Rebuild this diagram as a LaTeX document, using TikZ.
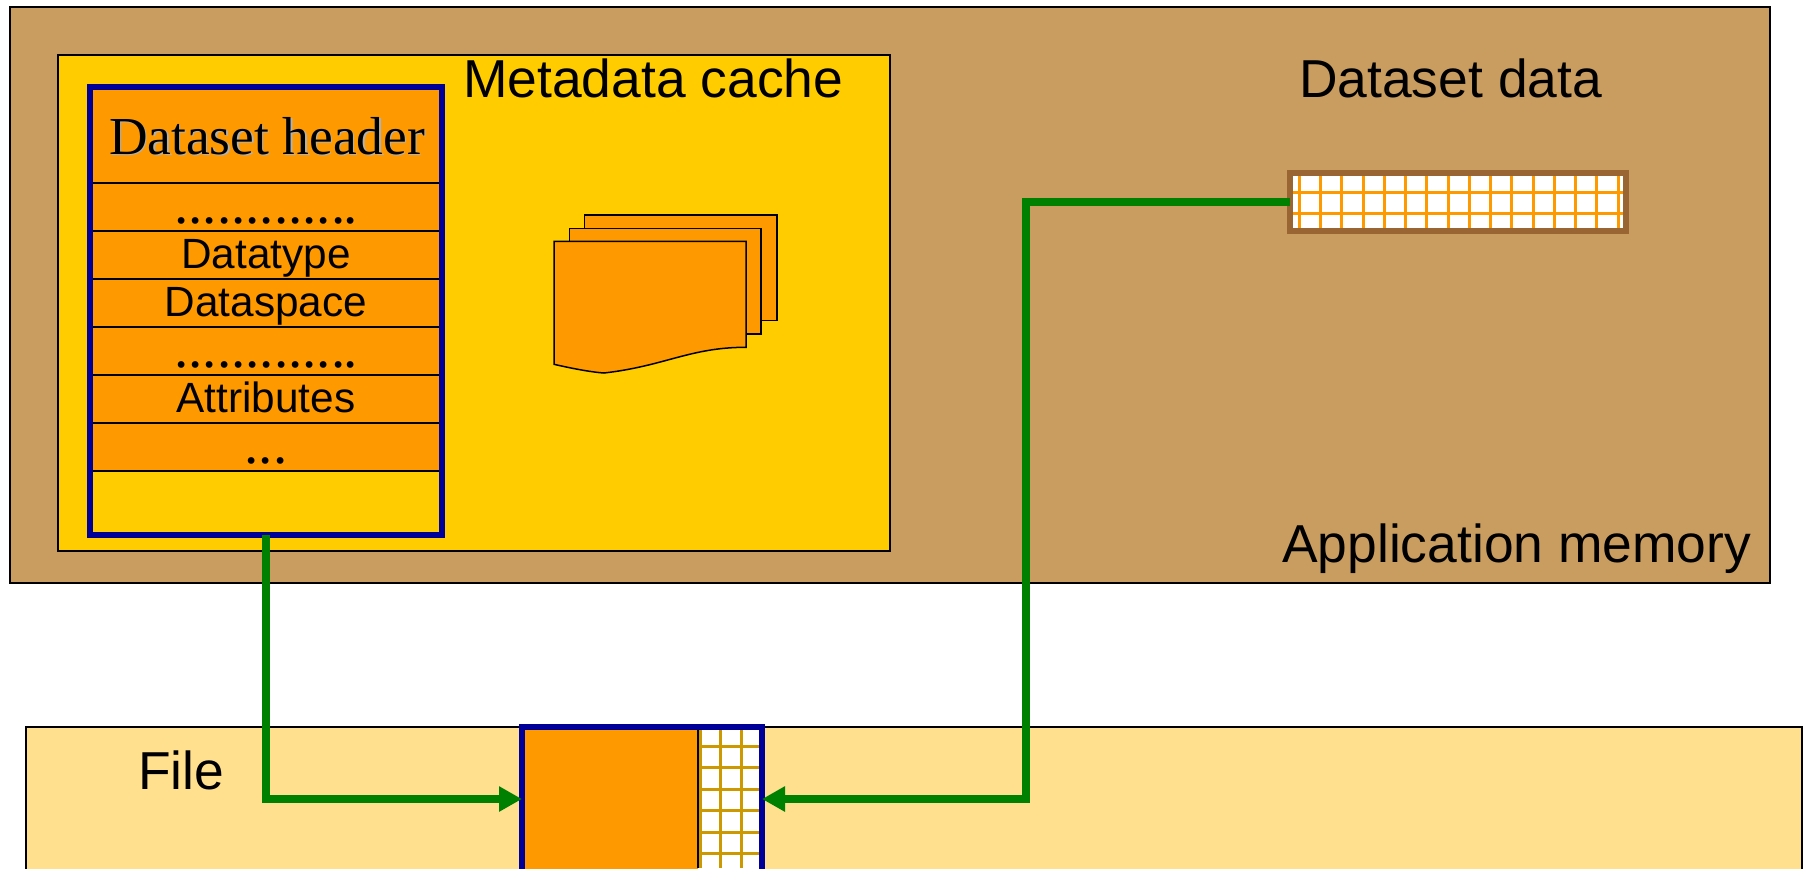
\documentclass[tikz,border=0pt]{standalone}
\usepackage{xcolor}
\usepackage{fontspec}
\setmainfont{Liberation Sans}
\newfontfamily\serifhead{Liberation Serif}
\usepackage{tikz}
\usetikzlibrary{arrows.meta,positioning}

\definecolor{memtan}{HTML}{C99C5F}
\definecolor{cacheyellow}{HTML}{FFCC00}
\definecolor{headorange}{HTML}{FF9900}
\definecolor{headblue}{HTML}{000099}
\definecolor{linkgreen}{HTML}{008000}
\definecolor{fileyellow}{HTML}{FFE08F}
\definecolor{databrown}{HTML}{996633}
\definecolor{filegold}{HTML}{CC9900}

\tikzset{
    panel/.style={rectangle, draw=black, line width=1.5pt, outer sep=0pt, inner sep=0pt, anchor=north west},
    headbox/.style={rectangle, draw=headblue, line width=6pt, outer sep=0pt, inner sep=0pt, minimum width=352pt},
    row/.style={rectangle, draw=black, line width=2pt, fill=headorange, outer sep=0pt, inner sep=0pt, minimum width=352pt, minimum height=48pt, text height=34pt, text depth=8pt, font=\fontsize{42.3}{42.3}\selectfont},
    dotrow/.style={row, text height=36pt, text depth=4pt, font=\serifhead\fontsize{57}{57}\selectfont},
    label/.style={inner sep=0pt, font=\fontsize{53.4}{53.4}\selectfont},
    headname/.style={inner sep=0pt, font=\serifhead\fontsize{53.4}{53.4}\selectfont},
    sheet/.style={draw=black, line width=1.5pt, fill=headorange},
    link/.style={draw=linkgreen, line width=8pt, -{Triangle[length=23pt,width=24pt]}},
}

\begin{document}
\begin{tikzpicture}[x=1pt, y=-1pt]
    \useasboundingbox (0,0) rectangle (1806,868);
    % Panels
    \node (memory) [panel, fill=memtan, minimum width=1760pt, minimum height=576pt] at (10,7) {};
    \node (cache) [panel, fill=cacheyellow, minimum width=832pt, minimum height=496pt] at (58,55) {};
    \node (file) [panel, fill=fileyellow, minimum width=1776pt, minimum height=160pt] at (26,727) {};

    % Header rows
    \node (hdrtitle) [row, minimum height=96pt] at (266,135) {};
    \node (hdrdots) [dotrow, below of=hdrtitle, node distance=72pt] {............\kern-2pt.};
    \node (hdrtype) [row, below of=hdrdots, node distance=48pt] {Datatype};
    \node (hdrspace) [row, below of=hdrtype, node distance=48pt] {Dataspace};
    \node (hdrmore) [dotrow, below of=hdrspace, node distance=48pt] {............\kern-2pt.};
    \node (hdrattr) [row, below of=hdrmore, node distance=48pt] {Attributes};
    \node (hdrlast) [dotrow, below of=hdrattr, node distance=48pt] {...};
    \node (header) [headbox, minimum height=448pt] at (266,311) {};
    \node (hdrshadow) [headname, text=black!30] at (268.5,137.5) {Dataset header};
    \node (hdrname) [headname] at (267,136) {Dataset header};

    % Page stack
    \draw[sheet] (584.7,215) rectangle (777,320.7);
    \draw[sheet] (569.3,228.7) rectangle (761,334);
    \draw[sheet] (554,241.3) -- (746,241.3) -- (746,347.3) .. controls (690,347.3) and (665,366) .. (604,373) .. controls (590,372) and (570,368) .. (554,364.3) -- cycle;

    % Dataset data
    \node (data) [rectangle, draw=databrown, line width=6pt, fill=white, outer sep=0pt, minimum width=336pt, minimum height=58pt] at (1458,202) {};
    \foreach \i in {0,...,15} {
        \draw[headorange, line width=3pt] (1299.3+\i*21.25,176) -- (1299.3+\i*21.25,228);
    }
    \foreach \y in {192.3,213.3} {
        \draw[headorange, line width=3pt] (1293,\y) -- (1623,\y);
    }

    % File block
    \node (block) [rectangle, fill=white, outer sep=0pt, minimum width=240pt, minimum height=144pt] at (642,799) {};
    \node (blockhead) [rectangle, fill=headorange, outer sep=0pt, anchor=north west, minimum width=173pt, minimum height=145pt] at (525,730) {};
    \foreach \x in {700,720.3,741.3} {
        \draw[filegold, line width=3pt] (\x,730) -- (\x,868);
    }
    \foreach \y in {746.3,767.5,789,810.3,832,853.3} {
        \draw[filegold, line width=3pt] (699,\y) -- (759,\y);
    }
    \draw[black, line width=2pt] (698,730) -- (698,868);
    \draw[headblue, line width=6pt] (522,875) -- (522,727) -- (762,727) -- (762,875);

    % Labels
    \node (cachelabel) [label, anchor=base west] at (463,97) {Metadata cache};
    \node (datalabel) [label, anchor=base west] at (1299,97) {Dataset data};
    \node (memorylabel) [label, anchor=base west] at (1282,562) {Application memory};
    \node (filelabel) [label, anchor=base west] at (138,789) {File};

    % Edges
    \coordinate (elbow) at (1026,202);
    \draw[link] (header.south) |- (block.west);
    \draw[link] (data.west) -- (elbow) |- (block.east);
\end{tikzpicture}
\end{document}
